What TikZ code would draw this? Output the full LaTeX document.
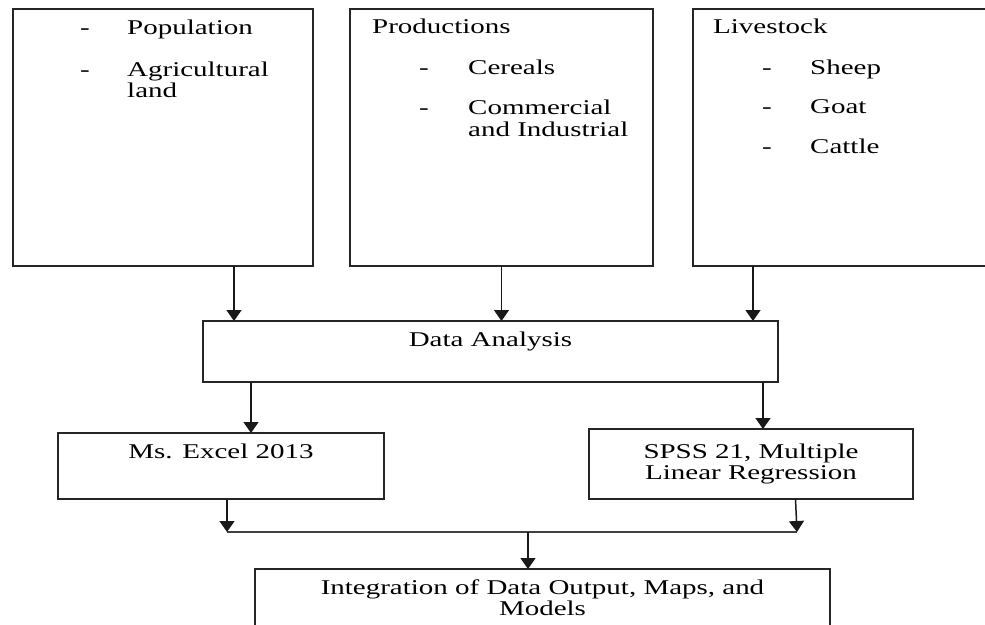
\documentclass[tikz,border=0pt]{standalone}
\usepackage{fontspec}
\setmainfont[FakeStretch=1.38]{Liberation Serif}
\usetikzlibrary{arrows.meta}

\tikzset{
  box/.style={draw=black!85, line width=1.5pt, outer sep=0pt, inner sep=0pt, anchor=north west},
  txt/.style={inner sep=0pt, text height=14pt, text depth=2pt},
  item/.style={txt, anchor=west},
  arr/.style={-{Triangle[width=15pt,length=11pt]}, line width=1.5pt, draw=black!90}
}

\begin{document}
\begin{tikzpicture}[x=1pt, y=-1pt, font=\fontsize{21pt}{21pt}\selectfont]
  \useasboundingbox (0,0) rectangle (985,624);
  \clip (0,0) rectangle (985,624);
  % top row
  \node[box, minimum width=300pt, minimum height=257pt] (pop) at (13,9) {};
  \node[box, minimum width=303pt, minimum height=257pt] (prod) at (350,9) {};
  \node[box, minimum width=302pt, minimum height=257pt] (live) at (693,9) {};
  \node[item] (popd1) at ([xshift=67pt,yshift=-19pt]pop.north west) {-};
  \node[item] (popt1) at ([xshift=114pt,yshift=-19pt]pop.north west) {Population};
  \node[item] (popd2) at ([xshift=67pt,yshift=-61pt]pop.north west) {-};
  \node[item] (popt2) at ([xshift=114pt,yshift=-61pt]pop.north west) {Agricultural};
  \node[item] (popt3) at ([xshift=114pt,yshift=-82pt]pop.north west) {land};
  \node[item] (prodh) at ([xshift=22pt,yshift=-18pt]prod.north west) {Productions};
  \node[item] (prodd1) at ([xshift=69pt,yshift=-59pt]prod.north west) {-};
  \node[item] (prodt1) at ([xshift=118pt,yshift=-59pt]prod.north west) {Cereals};
  \node[item] (prodd2) at ([xshift=69pt,yshift=-99pt]prod.north west) {-};
  \node[item] (prodt2) at ([xshift=118pt,yshift=-99pt]prod.north west) {Commercial};
  \node[item] (prodt3) at ([xshift=118pt,yshift=-121pt]prod.north west) {and Industrial};
  \node[item] (liveh) at ([xshift=20pt,yshift=-18pt]live.north west) {Livestock};
  \node[item] (lived1) at ([xshift=69pt,yshift=-59pt]live.north west) {-};
  \node[item] (livet1) at ([xshift=117pt,yshift=-59pt]live.north west) {Sheep};
  \node[item] (lived2) at ([xshift=69pt,yshift=-98pt]live.north west) {-};
  \node[item] (livet2) at ([xshift=117pt,yshift=-98pt]live.north west) {Goat};
  \node[item] (lived3) at ([xshift=69pt,yshift=-138pt]live.north west) {-};
  \node[item] (livet3) at ([xshift=117pt,yshift=-138pt]live.north west) {Cattle};
  % analysis
  \node[box, minimum width=575pt, minimum height=61pt] (ana) at (203,321) {};
  \node[txt] (anat) at ([yshift=-19pt]ana.north) {Data Analysis};
  \node[box, minimum width=326pt, minimum height=66pt] (excel) at (58,433) {};
  \node[txt] (excelt) at ([yshift=-19pt]excel.north) {Ms. Excel 2013};
  \node[box, minimum width=324pt, minimum height=70pt] (spss) at (589,429) {};
  \node[txt] (spsst1) at ([yshift=-23pt]spss.north) {SPSS 21, Multiple};
  \node[txt] (spsst2) at ([yshift=-44pt]spss.north) {Linear Regression};
  \node[box, minimum width=575pt, minimum height=75pt] (integ) at (255,569) {};
  \node[txt] (integt1) at ([yshift=-19pt]integ.north) {Integration of Data Output, Maps, and};
  \node[txt] (integt2) at ([yshift=-40pt]integ.north) {Models};
  % connectors
  \draw[arr] ([xshift=71pt]pop.south) -- ([xshift=71pt]pop.south |- ana.north);
  \draw[arr] (prod.south) -- (prod.south |- ana.north);
  \draw[arr] ([xshift=-91pt]live.south) -- ([xshift=-91pt]live.south |- ana.north);
  \draw[arr] ([xshift=-239.5pt]ana.south) -- ([xshift=-239.5pt]ana.south |- excel.north);
  \draw[arr] ([xshift=272.5pt]ana.south) -- ([xshift=272.5pt]ana.south |- spss.north);
  \coordinate (jl) at (227,532);
  \coordinate (jr) at (797,532);
  \coordinate (jm) at (528,532);
  \draw[line width=1.5pt, draw=black!75] (jl) -- (jr);
  \draw[arr] (excel.south -| jl) -- (jl);
  \draw[arr] ([xshift=44.5pt]spss.south) -- (jr);
  \draw[arr] (jm) -- (jm |- integ.north);
\end{tikzpicture}
\end{document}
